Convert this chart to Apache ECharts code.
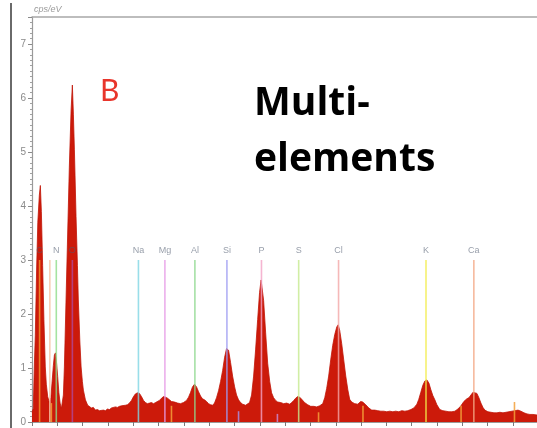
<!DOCTYPE html>
<html>
<head>
<meta charset="utf-8">
<script src="https://cdn.jsdelivr.net/npm/echarts@6/dist/echarts.min.js"></script>
<style>
  html, body { margin: 0; padding: 0; background: #fff; }
  #chart { width: 537px; height: 428px; }
</style>
</head>
<body>
<div id="chart"></div>
<script>
// EDS spectrum: energy channels (keV) and intensity (cps/eV)
const energyKeV = [
  0.200,0.210,0.218,0.226,0.237,0.246,0.258,0.266,0.274,0.284,0.294,0.305,0.313,0.324,0.337,
  0.349,0.358,0.369,0.377,0.385,0.392,0.403,0.412,0.422,0.432,0.440,0.448,0.456,0.469,0.482,
  0.495,0.509,0.519,0.527,0.535,0.548,0.559,0.566,0.578,0.588,0.598,0.606,0.622,0.640,0.653,
  0.669,0.685,0.701,0.717,0.733,0.748,0.764,0.780,0.796,0.812,0.828,0.843,0.859,0.875,0.891,
  0.907,0.922,0.938,0.954,0.970,0.986,1.002,1.017,1.033,1.049,1.065,1.081,1.096,1.112,1.128,
  1.144,1.160,1.176,1.191,1.207,1.223,1.239,1.255,1.271,1.286,1.302,1.326,1.350,1.373,1.397,
  1.421,1.437,1.453,1.468,1.484,1.500,1.516,1.532,1.547,1.563,1.579,1.595,1.611,1.627,
  1.642,1.658,1.674,1.690,1.706,1.722,1.737,1.745,1.753,1.769,1.785,1.801,1.816,1.832,1.848,
  1.864,1.888,1.903,1.919,1.935,1.951,1.967,1.983,1.998,2.010,2.018,2.030,2.046,2.062,2.078,
  2.093,2.109,2.125,2.141,2.165,2.188,2.212,2.236,2.252,2.268,2.283,2.299,2.315,2.331,2.354,
  2.378,2.402,2.426,2.449,2.473,2.497,
  2.513,2.528,2.544,2.560,2.576,2.592,2.608,2.619,2.631,2.647,2.663,2.679,2.695,2.710,2.726,
  2.750,2.774,2.797,2.813,2.837,2.861,2.884,2.908,2.932,2.956,2.979,3.003,3.027,3.051,3.074,
  3.098,3.122,3.146,3.169,3.193,3.217,3.241,3.256,3.272,3.288,3.304,3.320,3.336,3.351,3.367,
  3.383,3.399,3.422,3.446,3.470,3.494,3.517,3.541,3.565,3.589,3.612,3.636,3.652,3.668,3.684,
  3.699,3.715,3.731,3.747,3.763,3.778,3.802,3.826,3.850,3.873,3.897,3.921,3.945,3.968,3.992,
  4.016,4.040,4.063,4.087,4.111,4.134,4.158,4.190
];
const countsPerEV = [
  0.18,0.25,1.00,1.60,2.87,3.70,4.20,4.38,3.90,2.90,1.90,1.02,0.70,0.47,0.36,
  0.45,0.72,1.05,1.24,1.28,1.15,0.84,0.55,0.35,0.25,0.24,0.50,1.02,2.26,3.50,
  4.72,5.78,6.24,5.70,5.04,3.80,2.90,2.26,1.50,1.02,0.75,0.59,0.41,0.31,0.30,
  0.26,0.27,0.22,0.23,0.21,0.20,0.22,0.21,0.24,0.23,0.26,0.27,0.28,0.27,0.29,
  0.30,0.30,0.31,0.32,0.35,0.40,0.47,0.52,0.54,0.53,0.47,0.40,0.36,0.34,0.35,
  0.36,0.34,0.36,0.38,0.40,0.44,0.47,0.46,0.44,0.41,0.38,0.37,0.35,0.34,0.36,
  0.40,0.46,0.55,0.65,0.70,0.65,0.56,0.48,0.43,0.41,0.38,0.34,0.32,0.31,
  0.35,0.45,0.58,0.75,0.95,1.20,1.36,1.39,1.33,1.10,0.85,0.65,0.50,0.41,0.36,
  0.33,0.31,0.31,0.36,0.50,0.85,1.35,1.90,2.40,2.63,2.60,2.25,1.65,1.09,0.75,
  0.54,0.45,0.40,0.37,0.36,0.34,0.35,0.33,0.36,0.40,0.44,0.47,0.46,0.42,0.36,
  0.32,0.29,0.29,0.28,0.30,0.34,
  0.45,0.62,0.85,1.15,1.42,1.62,1.76,1.80,1.70,1.45,1.15,0.85,0.60,0.42,0.37,
  0.34,0.33,0.38,0.37,0.32,0.26,0.22,0.22,0.21,0.20,0.20,0.19,0.20,0.19,0.20,
  0.19,0.21,0.20,0.21,0.23,0.26,0.33,0.42,0.55,0.68,0.76,0.78,0.72,0.60,0.49,
  0.41,0.32,0.23,0.21,0.20,0.19,0.19,0.20,0.24,0.30,0.38,0.43,0.45,0.50,0.55,
  0.56,0.53,0.45,0.35,0.27,0.22,0.19,0.18,0.17,0.17,0.18,0.17,0.18,0.19,0.20,
  0.21,0.22,0.20,0.17,0.15,0.14,0.14,0.13
];

// Identified element lines (Kα, keV) and their marker heights
const elementNames = ['C', 'N', 'O', 'Na', 'Mg', 'Al', 'Si', 'P', 'S', 'Cl', 'K', 'Ca'];
const elementKeV   = [0.260, 0.392, 0.519, 1.041, 1.250, 1.487, 1.740, 2.013, 2.307, 2.622, 3.313, 3.691];
const markerHeight = 3.0;

// Unlabelled secondary lines (Ca Ll, Kβ lines)
const minorKeV    = [0.341, 0.353, 1.302, 1.832, 2.139, 2.464, 2.815, 3.590, 4.012];
const minorHeight = [3.0,   0.35,  0.30,  0.20,  0.15,  0.18,  0.30,  0.30,  0.37];

const yTickLabels = ['0', '1', '2', '3', '4', '5', '6', '7'];

// Marker colours per element
const lineColors = {
  C: '#f39a2e', N: '#8fdc8a', O: '#b0479a', Na: '#7fd6e4', Mg: '#e69ae6', Al: '#8fd88f',
  Si: '#9e9cf2', P: '#f2a2c6', S: '#c6ea8e', Cl: '#f2a6a6', K: '#f2ec4a', Ca: '#f4a884'
};
const minorColors = ['#f6c7a8', '#f3a03a', '#f3a03a', '#a78ee0', '#c88ad0', '#f3a03a', '#f3a03a', '#f3a03a', '#f3a03a'];

const spectrum = energyKeV.map((e, i) => [e, countsPerEV[i]]);
const elementData = elementNames.map((n, i) => [elementKeV[i], markerHeight, n]);
const minorData = minorKeV.map((e, i) => [e, minorHeight[i], i]);

const chart = echarts.init(document.getElementById('chart'), null, { renderer: 'canvas' });

chart.setOption({
  animation: false,
  backgroundColor: '#fff',
  grid: { left: 32, right: 0, top: 17, bottom: 6, containLabel: false },
  xAxis: [
    {
      type: 'value', min: 0.2, max: 4.19, interval: 0.2,
      axisLine: { show: true, lineStyle: { color: '#9a9a9a', width: 1 } },
      axisTick: { show: true, length: 4, lineStyle: { color: '#7a7a7a' } },
      axisLabel: { show: false },
      splitLine: { show: false }
    },
    {
      type: 'value', position: 'top', min: 0.2, max: 4.19,
      axisLine: { show: true, lineStyle: { color: '#a8a8a8', width: 1.5 } },
      axisTick: { show: false }, axisLabel: { show: false }, splitLine: { show: false }
    }
  ],
  yAxis: {
    type: 'value', min: 0, max: 7.5, interval: 1,
    name: 'cps/eV', nameLocation: 'end', nameGap: 3,
    nameTextStyle: { align: 'left', verticalAlign: 'bottom', color: '#9a9a9a', fontSize: 9, fontStyle: 'italic', fontFamily: 'Liberation Sans', padding: [0, 0, 0, 2] },
    axisLine: { show: true, lineStyle: { color: '#9a9a9a', width: 1.2 } },
    axisTick: { show: true, length: 4, lineStyle: { color: '#8a8a8a' } },
    minorTick: { show: true, splitNumber: 10, length: 2, lineStyle: { color: '#a0a0a0' } },
    axisLabel: {
      color: '#8a8a8a', fontSize: 10, fontFamily: 'Liberation Sans', margin: 6,
      showMaxLabel: false,
      formatter: v => (Number.isInteger(v) ? yTickLabels[v] : '')
    },
    splitLine: { show: false }
  },
  series: [
    {
      name: 'spectrum', type: 'line', data: spectrum, symbol: 'none', z: 2,
      lineStyle: { color: '#c01508', width: 0.8 },
      areaStyle: { color: '#cc1a0a', opacity: 1 }
    },
    {
      name: 'minor lines', type: 'custom', data: minorData, z: 3,
      renderItem: (params, api) => {
        const e = api.value(0);
        const p0 = api.coord([e, 0]);
        const p1 = api.coord([e, api.value(1)]);
        return {
          type: 'line',
          shape: { x1: p0[0], y1: p0[1], x2: p1[0], y2: p1[1] },
          style: { stroke: minorColors[api.value(2)], lineWidth: 1.6, opacity: 0.85 }
        };
      }
    },
    {
      name: 'element lines', type: 'custom', data: elementData, z: 4,
      renderItem: (params, api) => {
        const e = api.value(0);
        const name = elementNames[params.dataIndex];
        const p0 = api.coord([e, 0]);
        const p1 = api.coord([e, api.value(1)]);
        return {
          type: 'group',
          children: [
            {
              type: 'line',
              shape: { x1: p0[0], y1: p0[1], x2: p1[0], y2: p1[1] },
              style: { stroke: lineColors[name], lineWidth: 1.6, opacity: 0.8 }
            },
            {
              type: 'text',
              style: {
                text: name, x: p1[0], y: p1[1] - 9,
                align: 'center', verticalAlign: 'middle',
                fontSize: 9, fontFamily: 'Liberation Sans',
                fill: 'rgba(80,92,112,0.6)'
              }
            }
          ]
        };
      }
    }
  ],
  graphic: [
    { type: 'rect', left: 10, top: 3, shape: { width: 2, height: 425 }, style: { fill: '#6a6a6a' } },
    { type: 'text', left: 100, top: 76, style: { text: 'B', fill: '#e8352b', fontSize: 30, fontFamily: 'Lato' } },
    { type: 'text', left: 254, top: 84, style: { text: 'Multi-', fill: '#000', fontSize: 39, fontWeight: 'bold', fontFamily: 'Open Sans' } },
    { type: 'text', left: 254, top: 140, style: { text: 'elements', fill: '#000', fontSize: 39, fontWeight: 'bold', fontFamily: 'Open Sans' } }
  ]
});
</script>
</body>
</html>
